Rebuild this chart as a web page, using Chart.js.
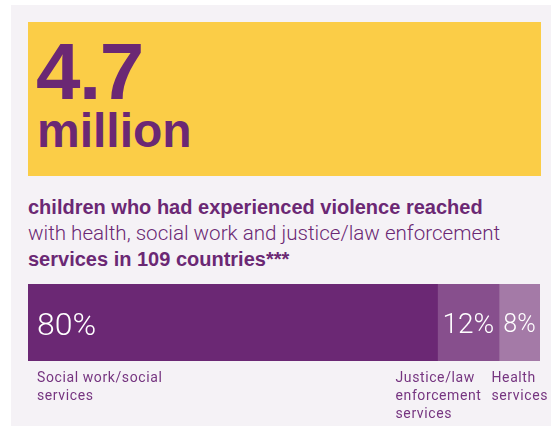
<!DOCTYPE html>
<html>
<head>
<meta charset="utf-8">
<script src="https://cdn.jsdelivr.net/npm/chart.js@4"></script>
<style>
  html, body { margin: 0; padding: 0; width: 551px; height: 426px; overflow: hidden; background: #ffffff; }
  .panel { position: absolute; left: 11px; top: 5px; width: 540px; height: 421px; background: #f5f2f6; }
  .hero { position: absolute; left: 28px; top: 22px; width: 513px; height: 154px; background: #fbcd47; }
  .txt { position: absolute; left: 28px; white-space: nowrap; color: #6b2874; }
  .big { font-family: 'Liberation Sans', Arial, sans-serif; font-weight: bold; }
  .num { left: 36px; top: 32px; font-size: 80px; line-height: 80px; letter-spacing: -1.5px; }
  .unit { left: 37px; top: 107px; font-size: 48px; line-height: 48px; }
  .lead { font-family: 'Liberation Sans', Arial, sans-serif; font-weight: bold; font-size: 20px; line-height: 20px; }
  .thin { font-family: Roboto, sans-serif; font-weight: 300; font-size: 20.6px; line-height: 20.6px; }
  #chart { position: absolute; left: 0; top: 0; }
</style>
</head>
<body>
<div class="panel"></div>
<div class="hero"></div>
<div class="txt big num">4.7</div>
<div class="txt big unit">million</div>
<div class="txt lead" style="top:197px">children who had experienced violence reached</div>
<div class="txt thin" style="top:223px">with health, social work and justice/law enforcement</div>
<div class="txt lead" style="top:249px">services in 109 countries***</div>
<canvas id="chart" width="551" height="426"></canvas>
<script>
// Share of children reached, by type of service
const serviceNames = ['Social work/social services', 'Justice/law enforcement services', 'Health services'];
const serviceShares = [80, 12, 8];
const shareLabels = ['80%', '12%', '8%'];
const nameLines = [
  ['Social work/social', 'services'],
  ['Justice/law', 'enforcement', 'services'],
  ['Health', 'services']
];

const purples = ['#6b2874', '#874f8d', '#a47aa7'];

// Writes the percentage inside each segment and the service name underneath
const segmentText = {
  id: 'segmentText',
  afterDatasetsDraw(chart) {
    const ctx = chart.ctx;
    const bars = chart.data.datasets.map((ds, i) =>
      chart.getDatasetMeta(i).data[0].getProps(['x', 'y', 'base', 'height'], true));

    ctx.save();
    ctx.textBaseline = 'alphabetic';

    // percentages, shrunk to fit the narrow segments
    bars.forEach((b, i) => {
      const left = Math.min(b.x, b.base);
      const segW = Math.abs(b.x - b.base);
      let size = 32;
      ctx.font = `300 ${size}px Roboto`;
      let w = ctx.measureText(shareLabels[i]).width;
      ctx.fillStyle = '#ffffff';
      if (w + 18 <= segW) {
        ctx.textAlign = 'left';
        ctx.fillText(shareLabels[i], left + 9, b.y + 12.5);
      } else {
        size = Math.floor(size * (segW - 8) / w);
        ctx.font = `300 ${size}px Roboto`;
        ctx.textAlign = 'center';
        ctx.fillText(shareLabels[i], left + segW / 2, b.y + size * 0.39);
      }
    });

    // service names: start under each segment, pushed left so they neither overlap nor leave the canvas
    ctx.font = '400 14px Roboto';
    ctx.letterSpacing = '0.6px';
    ctx.fillStyle = '#763580';
    ctx.textAlign = 'left';
    const widths = nameLines.map(lines => Math.max(...lines.map(l => ctx.measureText(l).width)));
    const xs = bars.map(b => Math.min(b.x, b.base) + 9);
    const gap = 10;
    for (let i = xs.length - 1; i >= 0; i--) {
      const limit = i === xs.length - 1 ? chart.width - 3 : xs[i + 1] - gap;
      xs[i] = Math.min(xs[i], limit - widths[i]);
    }
    const top = chart.chartArea.bottom + 21;
    nameLines.forEach((lines, i) => {
      lines.forEach((line, k) => ctx.fillText(line, xs[i], top + k * 18));
    });
    ctx.restore();
  }
};

new Chart(document.getElementById('chart'), {
  type: 'bar',
  data: {
    labels: ['children reached'],
    datasets: serviceNames.map((name, i) => ({
      label: name,
      data: [serviceShares[i]],
      backgroundColor: purples[i],
      borderWidth: 0,
      barPercentage: 1,
      categoryPercentage: 1
    }))
  },
  options: {
    indexAxis: 'y',
    responsive: false,
    animation: false,
    devicePixelRatio: 1,
    layout: { padding: { left: 28, right: 11, top: 284, bottom: 65 } },
    scales: {
      x: { stacked: true, min: 0, max: 100, display: false },
      y: { stacked: true, display: false }
    },
    plugins: {
      legend: { display: false },
      tooltip: { enabled: false }
    }
  },
  plugins: [segmentText]
});
</script>
</body>
</html>
